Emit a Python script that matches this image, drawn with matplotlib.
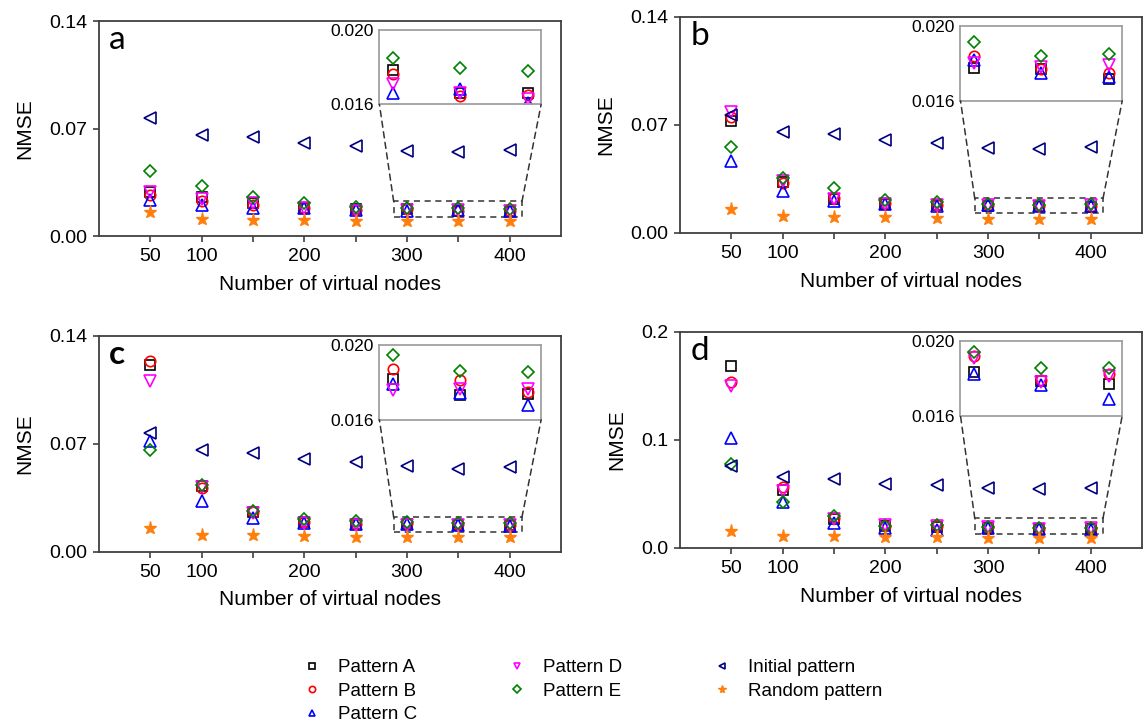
import matplotlib.pyplot as plt
from matplotlib.patches import Rectangle, ConnectionPatch

plt.rcParams['font.family'] = ['Liberation Sans', 'DejaVu Sans']

nodes = [50, 100, 150, 200, 250, 300, 350, 400]
xtick_labels = ["50", "100", "", "200", "", "300", "", "400"]

# panel a
a_pattern_a = [0.0289, 0.0255, 0.0212, 0.0185, 0.0175, 0.01785, 0.0166, 0.0166]
a_pattern_b = [0.0270, 0.0231, 0.0205, 0.0183, 0.0172, 0.01763, 0.01643, 0.0165]
a_pattern_c = [0.0235, 0.0205, 0.0180, 0.0184, 0.0171, 0.01659, 0.01681, 0.01605]
a_pattern_d = [0.0285, 0.0238, 0.0212, 0.0180, 0.0166, 0.01709, 0.01663, 0.0163]
a_pattern_e = [0.0426, 0.0328, 0.0251, 0.0214, 0.0192, 0.01848, 0.01797, 0.01778]
a_initial = [0.0767, 0.0659, 0.0642, 0.0603, 0.0583, 0.0555, 0.0547, 0.0560]
a_random = [0.0158, 0.0110, 0.0106, 0.0104, 0.0099, 0.0097, 0.0096, 0.0096]

# panel b
b_pattern_a = [0.0728, 0.0330, 0.0220, 0.0190, 0.0180, 0.01774, 0.01769, 0.01716]
b_pattern_b = [0.0750, 0.0327, 0.0225, 0.0192, 0.0182, 0.0184, 0.01770, 0.01746]
b_pattern_c = [0.0467, 0.0274, 0.0209, 0.0188, 0.0178, 0.01817, 0.01748, 0.01724]
b_pattern_d = [0.0782, 0.0334, 0.0220, 0.0190, 0.0182, 0.0180, 0.01778, 0.01792]
b_pattern_e = [0.0560, 0.0355, 0.0289, 0.0215, 0.0200, 0.01911, 0.01838, 0.01847]
b_initial = [0.0765, 0.0655, 0.0640, 0.0601, 0.0582, 0.0553, 0.0543, 0.0558]
b_random = [0.0155, 0.0108, 0.0106, 0.0101, 0.0097, 0.0093, 0.0093, 0.0093]

# panel c
c_pattern_a = [0.1210, 0.0430, 0.0260, 0.0192, 0.0182, 0.01816, 0.01731, 0.01735]
c_pattern_b = [0.1236, 0.0415, 0.0262, 0.0193, 0.0183, 0.01871, 0.01809, 0.0175]
c_pattern_c = [0.0722, 0.0333, 0.0222, 0.0188, 0.0180, 0.01791, 0.01742, 0.01681]
c_pattern_d = [0.1106, 0.0420, 0.0255, 0.0190, 0.0178, 0.01759, 0.01763, 0.01763]
c_pattern_e = [0.0663, 0.0432, 0.0264, 0.0216, 0.0203, 0.01945, 0.01857, 0.01855]
c_initial = [0.0769, 0.0659, 0.0644, 0.0600, 0.0583, 0.0555, 0.0540, 0.0553]
c_random = [0.0156, 0.0110, 0.0108, 0.0104, 0.0099, 0.0095, 0.0095, 0.0095]

# panel d
d_pattern_a = [0.1683, 0.0540, 0.0270, 0.0205, 0.0195, 0.01831, 0.01787, 0.01767]
d_pattern_b = [0.1538, 0.0563, 0.0275, 0.0208, 0.0200, 0.01917, 0.0179, 0.0182]
d_pattern_c = [0.1018, 0.0430, 0.0231, 0.0185, 0.0169, 0.01822, 0.01764, 0.01689]
d_pattern_d = [0.1502, 0.0532, 0.0270, 0.0210, 0.0205, 0.0191, 0.01778, 0.01813]
d_pattern_e = [0.0778, 0.0430, 0.0298, 0.0206, 0.0212, 0.0194, 0.01854, 0.01854]
d_initial = [0.0763, 0.0655, 0.0640, 0.0597, 0.0582, 0.0554, 0.0542, 0.0557]
d_random = [0.0154, 0.0111, 0.0108, 0.0102, 0.0098, 0.0095, 0.0095, 0.0095]

series_names = ["Pattern A", "Pattern B", "Pattern C", "Pattern D", "Pattern E",
                "Initial pattern", "Random pattern"]
markers = ["s", "o", "^", "v", "D", "<", "*"]
colors = ["black", "#ff0000", "#0000ff", "#ff00ff", "#008000", "#000080", "#ff7f0e"]
msizes = [6.5, 7.5, 8, 8, 6.5, 8, 9.5]

panels = [
    ("a", [a_pattern_a, a_pattern_b, a_pattern_c, a_pattern_d, a_pattern_e, a_initial, a_random],
     [0, 0.07, 0.14], ["0.00", "0.07", "0.14"], 0.14, (0.0127, 0.0226)),
    ("b", [b_pattern_a, b_pattern_b, b_pattern_c, b_pattern_d, b_pattern_e, b_initial, b_random],
     [0, 0.07, 0.14], ["0.00", "0.07", "0.14"], 0.14, (0.0128, 0.0225)),
    ("c", [c_pattern_a, c_pattern_b, c_pattern_c, c_pattern_d, c_pattern_e, c_initial, c_random],
     [0, 0.07, 0.14], ["0.00", "0.07", "0.14"], 0.14, (0.0127, 0.0226)),
    ("d", [d_pattern_a, d_pattern_b, d_pattern_c, d_pattern_d, d_pattern_e, d_initial, d_random],
     [0, 0.1, 0.2], ["0.0", "0.1", "0.2"], 0.2, (0.0132, 0.0277)),
]

# axes rectangles in figure fraction (left, bottom, width, height)
rects = [[0.0863, 0.6731, 0.4028, 0.2978],
         [0.5929, 0.6773, 0.4028, 0.2992],
         [0.0863, 0.2355, 0.4028, 0.2992],
         [0.5929, 0.2410, 0.4028, 0.2992]]

spine_col = "#404040"
fig = plt.figure(figsize=(11.47, 7.22), dpi=100)

handles = []
for (letter, data, yt, ytl, ymax, box_y), r in zip(panels, rects):
    ax = fig.add_axes(r)
    for i, vals in enumerate(data):
        if markers[i] == "*":
            h, = ax.plot(nodes, vals, ls="none", marker="*", ms=msizes[i],
                         color=colors[i], mec=colors[i])
        else:
            h, = ax.plot(nodes, vals, ls="none", marker=markers[i], ms=msizes[i],
                         mfc="none", mec=colors[i], mew=1.2)
        if letter == "a":
            handles.append(h)
    ax.set_xlim(0, 450)
    ax.set_ylim(0, ymax)
    ax.set_xticks(nodes)
    ax.set_xticklabels(xtick_labels)
    ax.set_yticks(yt)
    ax.set_yticklabels(ytl)
    ax.tick_params(direction="out", length=4.5, width=1.2, color=spine_col,
                   labelsize=14, pad=4)
    for s in ax.spines.values():
        s.set_color(spine_col)
        s.set_linewidth(1.3)
    ax.set_xlabel("Number of virtual nodes", fontsize=15, labelpad=7)
    ax.set_ylabel("NMSE", fontsize=15, labelpad=11)
    ax.text(0.022, 0.87, letter, transform=ax.transAxes, fontsize=24,
            family=["Lato", "DejaVu Sans"],
            fontweight="bold" if letter == "c" else "normal", va="baseline")

    # zoomed inset
    axins = ax.inset_axes([0.607, 0.612, 0.35, 0.348])
    for i, vals in enumerate(data[:5]):
        axins.plot(nodes, vals, ls="none", marker=markers[i], ms=msizes[i],
                   mfc="none", mec=colors[i], mew=1.2)
    axins.set_xlim(290, 410)
    axins.set_ylim(0.016, 0.020)
    axins.set_xticks([])
    axins.set_yticks([0.016, 0.020])
    axins.set_yticklabels(["0.016", "0.020"])
    axins.tick_params(length=0, labelsize=12.5, pad=4)
    for s in axins.spines.values():
        s.set_color("#a0a0a0")
        s.set_linewidth(1.3)

    x0, x1 = 287, 412
    ax.add_patch(Rectangle((x0, box_y[0]), x1 - x0, box_y[1] - box_y[0], fill=False,
                           ls=(0, (4, 3)), lw=1.1, ec="#333333"))
    for xa, xb in [(x0, 0), (x1, 1)]:
        con = ConnectionPatch(xyA=(xa, box_y[1]), coordsA=ax.transData,
                              xyB=(xb, 0), coordsB=axins.transAxes,
                              ls=(0, (4, 3)), lw=1.1, color="#333333")
        fig.add_artist(con)

leg = fig.legend(handles, series_names, ncols=3, loc="upper left",
                 bbox_to_anchor=(0.264, 0.087), frameon=False, fontsize=13.5,
                 handlelength=1.0, handletextpad=0.9, columnspacing=4.8,
                 labelspacing=0.34, borderpad=0, borderaxespad=0, markerscale=0.6)

fig.savefig("out.png", dpi=100)
